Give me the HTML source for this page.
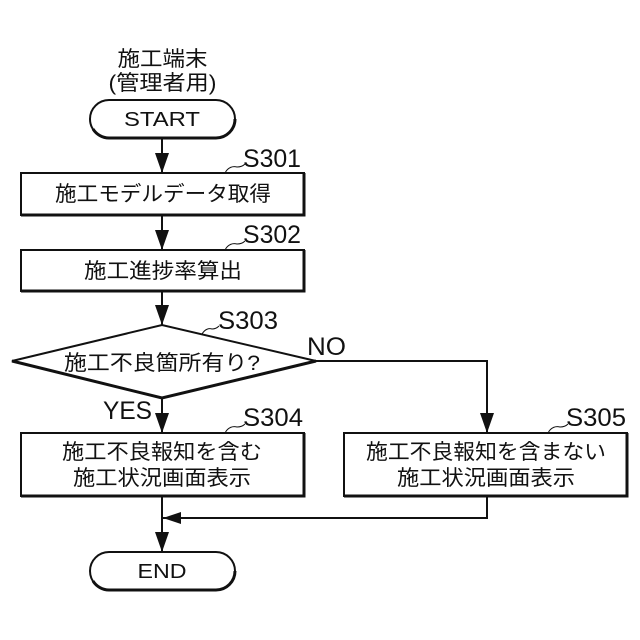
<!DOCTYPE html>
<html>
<head>
<meta charset="utf-8">
<style>
html,body{margin:0;padding:0;background:#fff;width:640px;height:640px;overflow:hidden}
svg{display:block}
text{font-family:"Liberation Sans","Noto Sans CJK JP",sans-serif;fill:#111}
.j{font-size:21px}
.s{font-size:25px}
</style>
</head>
<body>
<svg width="640" height="640" viewBox="0 0 640 640" xmlns="http://www.w3.org/2000/svg">
<g fill="none" stroke="#111" stroke-width="2">
<!-- connectors -->
<path d="M162 138V173M162 215V250M162 291V325M162 398V433M162 496V552"/>
<path d="M316 361H487V433M487 496V518H163"/>
<!-- leaders -->
<path d="M225 173c3-6 8-7 12-6c3 0 6-1 8-3" stroke-width="1"/>
<path d="M225 250c3-6 8-7 12-6c3 0 6-1 8-3" stroke-width="1"/>
<path d="M202 334c3-5 7-6 10-5c3 0 5-1 7-3" stroke-width="1"/>
<path d="M225 433c3-6 8-7 12-6c3 0 6-1 8-3" stroke-width="1"/>
<path d="M548 433c3-6 8-7 12-6c3 0 6-1 8-3" stroke-width="1"/>
<!-- terminators -->
<rect x="90" y="100" width="145" height="38" rx="19" fill="#fff"/>
<path d="M93 129A19 19 0 0 0 109 138H216A19 19 0 0 0 235 119" stroke-width="3"/>
<rect x="90" y="552" width="145" height="38" rx="19" fill="#fff"/>
<path d="M93 581A19 19 0 0 0 109 590H216A19 19 0 0 0 235 571" stroke-width="3"/>
<!-- boxes -->
<rect x="21" y="173" width="283" height="42" fill="#fff"/>
<path d="M21 215H304V173" stroke-width="3"/>
<rect x="21" y="250" width="283" height="41" fill="#fff"/>
<path d="M21 291H304V250" stroke-width="3"/>
<rect x="21" y="433" width="283" height="63" fill="#fff"/>
<path d="M21 496H304V433" stroke-width="3"/>
<rect x="344" y="433" width="283" height="63" fill="#fff"/>
<path d="M344 496H627V433" stroke-width="3"/>
<!-- diamond -->
<path d="M12 361L162 325L316 361L162 398Z" fill="#fff"/>
<path d="M12 361L162 398L316 361" stroke-width="3"/>
</g>
<!-- arrowheads -->
<g fill="#111">
<path d="M155 153H169L162 173Z"/>
<path d="M155 230H169L162 250Z"/>
<path d="M155 305H169L162 325Z"/>
<path d="M155 413H169L162 433Z"/>
<path d="M480 413H494L487 433Z"/>
<path d="M155 532H169L162 552Z"/>
<path d="M163 518L181 512V524Z"/>
</g>
<!-- labels -->
<g class="j">
<text x="162.500" y="66" text-anchor="middle" textLength="90" lengthAdjust="spacingAndGlyphs">施工端末</text>
<text x="162.500" y="90" text-anchor="middle" textLength="108" lengthAdjust="spacingAndGlyphs">(管理者用)</text>
<text x="163" y="201" text-anchor="middle" textLength="216" lengthAdjust="spacingAndGlyphs">施工モデルデータ取得</text>
<text x="163" y="278" text-anchor="middle" textLength="158" lengthAdjust="spacingAndGlyphs">施工進捗率算出</text>
<text x="64" y="370" textLength="196" lengthAdjust="spacingAndGlyphs">施工不良箇所有り?</text>
<text x="162" y="459" text-anchor="middle" textLength="200" lengthAdjust="spacingAndGlyphs">施工不良報知を含む</text>
<text x="162" y="485" text-anchor="middle" textLength="178" lengthAdjust="spacingAndGlyphs">施工状況画面表示</text>
<text x="486" y="459" text-anchor="middle" textLength="240" lengthAdjust="spacingAndGlyphs">施工不良報知を含まない</text>
<text x="486" y="485" text-anchor="middle" textLength="178" lengthAdjust="spacingAndGlyphs">施工状況画面表示</text>
</g>
<g style="font-size:20px">
<text x="162" y="126" text-anchor="middle" textLength="76" lengthAdjust="spacingAndGlyphs">START</text>
<text x="162" y="578" text-anchor="middle" textLength="49" lengthAdjust="spacingAndGlyphs">END</text>
</g>
<g class="s">
<text x="243" y="167" textLength="58" lengthAdjust="spacingAndGlyphs">S301</text>
<text x="243" y="243" textLength="58" lengthAdjust="spacingAndGlyphs">S302</text>
<text x="218" y="329" textLength="60" lengthAdjust="spacingAndGlyphs">S303</text>
<text x="243" y="426" textLength="60" lengthAdjust="spacingAndGlyphs">S304</text>
<text x="566" y="426" textLength="60" lengthAdjust="spacingAndGlyphs">S305</text>
<text x="307" y="355" textLength="39" lengthAdjust="spacingAndGlyphs">NO</text>
<text x="103" y="419" textLength="49" lengthAdjust="spacingAndGlyphs">YES</text>
</g>
</svg>
</body>
</html>
